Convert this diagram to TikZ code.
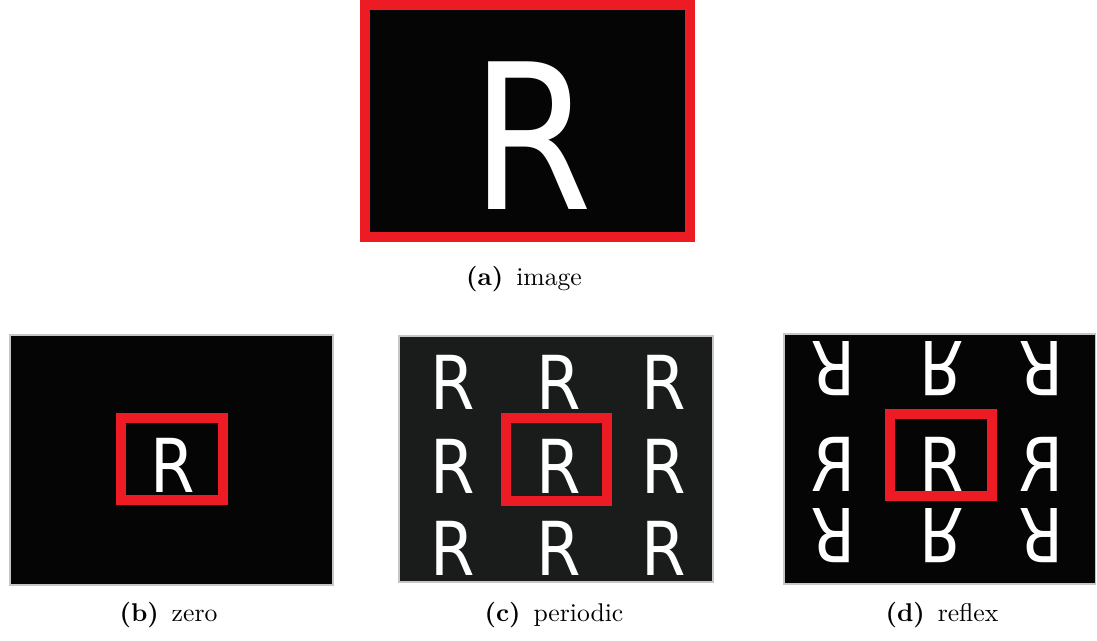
\documentclass[tikz,border=0pt]{standalone}
\usepackage{fontspec}
\newfontfamily\rfont{DejaVu Sans}
\usepackage{xcolor}
\usetikzlibrary{positioning}

\definecolor{winred}{RGB}{237,28,36}
\definecolor{padblack}{RGB}{5,5,5}
\definecolor{padgrey}{RGB}{26,28,28}
\newcommand{\pxl}{0.0137cm}

\begin{document}
\begin{tikzpicture}[
    x=0.0137cm,
    y=-0.0137cm,
    panel/.style={
        rectangle,
        fill=padblack,
        draw=gray!45,
        line width=0.4pt,
        inner sep=0pt
    },
    window/.style={
        rectangle,
        draw=winred,
        line width=10*\pxl,
        inner sep=0pt
    },
    letter/.style={
        text=white,
        inner sep=0pt,
        xscale=0.86,
        font=\rfont\fontsize{29}{29}\selectfont
    },
    bigletter/.style={
        letter,
        font=\rfont\fontsize{79}{79}\selectfont
    },
    caption/.style={
        anchor=base,
        font=\normalsize
    }
]
\useasboundingbox (0,0) rectangle (1097,640);

% Original image
\node[window, fill=padblack, minimum width=325*\pxl, minimum height=232*\pxl] (img) at (527.5,121) {};
\node[bigletter] (imgR) at (532,136) {R};
\node[caption] (capa) at (524,285) {\textbf{(a)}\enspace image};

% Zero padding
\node[panel, minimum width=323*\pxl, minimum height=250*\pxl] (zero) at (171.5,460) {};
\node[letter] (zeroR) at (172.5,465.5) {R};
\node[window, minimum width=102*\pxl, minimum height=82*\pxl] (zerowin) at (172,459) {};
\node[caption] (capb) at (168.5,621) {\textbf{(b)}\enspace zero};

% Periodic padding
\node[panel, fill=padgrey, minimum width=314*\pxl, minimum height=246*\pxl] (peri) at (556,459) {};
\foreach \col/\cx in {0/453,1/558.5,2/663.5}
    \foreach \row/\cy in {0/382.5,1/466,2/548.5}
        \node[letter] (periR\col\row) at (\cx,\cy) {R};
\node[window, minimum width=101*\pxl, minimum height=83*\pxl] (periwin) at (556.5,459.5) {};
\node[caption] (capc) at (554,621) {\textbf{(c)}\enspace periodic};

% Reflect padding
\node[panel, minimum width=311*\pxl, minimum height=250*\pxl] (refl) at (939.5,459) {};
\foreach \col/\cx in {0/833.5,1/941.5,2/1041.5}
    \foreach \row/\cy in {0/369,1/464,2/536} {
        \pgfmathsetmacro{\xs}{\col==1 ? 1 : -1}
        \pgfmathsetmacro{\ys}{\row==1 ? 1 : -1}
        \node[letter, xscale=\xs, yscale=\ys] (reflR\col\row) at (\cx,\cy) {R};
    }
\node[window, minimum width=102*\pxl, minimum height=82*\pxl] (reflwin) at (941,455) {};
\node[caption] (capd) at (942,621) {\textbf{(d)}\enspace reflex};

\end{tikzpicture}
\end{document}
